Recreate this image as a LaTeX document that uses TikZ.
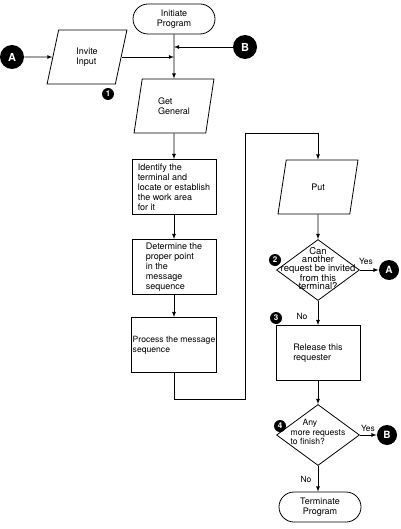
\documentclass[tikz,border=0pt]{standalone}
\usepackage{fontspec}
\setmainfont{TeX Gyre Heros}
\usetikzlibrary{shapes.geometric,shapes.misc}

\begin{document}
\begin{tikzpicture}[x=1pt,y=-1pt,node distance=80pt,line width=0.8pt,
    every node/.style={font=\fontsize{9}{10}\selectfont},
    termbox/.style={draw,rounded rectangle,minimum width=84pt,minimum height=30pt,align=center,inner sep=1pt},
    iobox/.style={draw,trapezium,trapezium left angle=77,trapezium right angle=103,trapezium stretches=true,minimum width=80pt,minimum height=54pt,align=left,inner sep=1pt},
    procbox/.style={draw,rectangle,minimum width=84pt,minimum height=55pt,align=left,inner sep=1pt},
    decbox/.style={draw,diamond,minimum width=83pt,minimum height=61pt,inner sep=0pt},
    conn/.style={circle,fill=black,text=white,font=\bfseries\fontsize{11}{11}\selectfont,inner sep=0pt,minimum size=24pt},
    badge/.style={circle,fill=black,text=white,font=\bfseries\fontsize{8}{8}\selectfont,inner sep=0pt,minimum size=12pt},
    flow/.style={draw,-latex}
]
    \useasboundingbox (0,0) rectangle (400,529);

    \node[termbox] (initiateProgram) at (174,19) {Initiate\\Program};
    \node[iobox,below of = initiateProgram,node distance=87pt] (getGeneral) {Get\\General};
    \node[procbox,below of = getGeneral,node distance=81pt] (identifyTerminal) {Identify the\\terminal and\\locate or establish\\the work area\\for it};
    \node[procbox,below of = identifyTerminal] (determinePoint) {Determine the\\proper point\\in the\\message\\sequence};
    \node[procbox,font=\fontsize{8.6}{10}\selectfont,below of = determinePoint,node distance=78pt] (processSequence) {Process the message\\sequence};

    \node[iobox] (inviteInput) at (87,57) {Invite\\Input};
    \node[conn,left of = inviteInput,node distance=75pt] (connA) {A};
    \node[conn] (connB) at (245,47) {B};
    \node[badge] (badgeOne) at (108,94) {1};
    \coordinate (joinB) at (174,47);
    \coordinate (joinInput) at (174,57);

    \node[iobox] (put) at (318,187) {Put};
    \node[decbox,below of = put,node distance=83pt] (canInvite) {};
    \node[font=\fontsize{9.5}{8.2}\selectfont,align=center,yshift=1.5pt] (canInviteText) at (canInvite) {Can\\another\\request be invited\\from this\\terminal?};
    \node[procbox,below of = canInvite,node distance=83pt] (releaseRequester) {Release this\\requester};
    \node[decbox,below of = releaseRequester,node distance=82pt] (anyMore) {};
    \node[font=\fontsize{8.6}{9.5}\selectfont,align=left,yshift=3pt] (anyMoreText) at (anyMore) {\hspace*{12pt}Any\\more requests\\to finish?};
    \node[termbox,below of = anyMore,node distance=72pt,xshift=2pt] (terminateProgram) {Terminate\\Program};

    \node[conn,minimum size=20pt,font=\bfseries\fontsize{10}{10}\selectfont,right of = canInvite,node distance=71pt] (connAright) {A};
    \node[conn,minimum size=20pt,font=\bfseries\fontsize{10}{10}\selectfont,right of = anyMore,node distance=69pt] (connBright) {B};
    \node[badge] (badgeTwo) at (275,260) {2};
    \node[badge] (badgeThree) at (276,318) {3};
    \node[badge] (badgeFour) at (280,426) {4};
    \node[font=\fontsize{8.5}{8.5}\selectfont] (yesOne) at (366,261) {Yes};
    \node[font=\fontsize{8.5}{8.5}\selectfont] (noOne) at (302,316) {No};
    \node[font=\fontsize{8.5}{8.5}\selectfont] (yesTwo) at (368,428) {Yes};
    \node[font=\fontsize{8.5}{8.5}\selectfont] (noTwo) at (306,479) {No};

    \coordinate (loopLow) at (245,399);
    \coordinate (loopHigh) at (245,133);

    \draw[flow] (initiateProgram) -- (getGeneral);
    \draw[flow] (connA) -- (inviteInput);
    \draw[flow] (inviteInput.east |- joinInput) -- (joinInput);
    \draw[flow] (connB) -- (joinB);
    \draw[flow] (getGeneral) -- (identifyTerminal);
    \draw[flow] (identifyTerminal) -- (determinePoint);
    \draw[flow] (determinePoint) -- (processSequence);
    \draw[flow] (processSequence.south) |- (loopLow) -- (loopHigh) -| (put.north);
    \draw[flow] (put) -- (canInvite);
    \draw[flow] (canInvite) -- (connAright);
    \draw[flow] (canInvite) -- (releaseRequester);
    \draw[flow] (releaseRequester) -- (anyMore);
    \draw[flow] (anyMore) -- (connBright);
    \draw[flow] (anyMore.south) -- (anyMore.south |- terminateProgram.north);
\end{tikzpicture}
\end{document}
